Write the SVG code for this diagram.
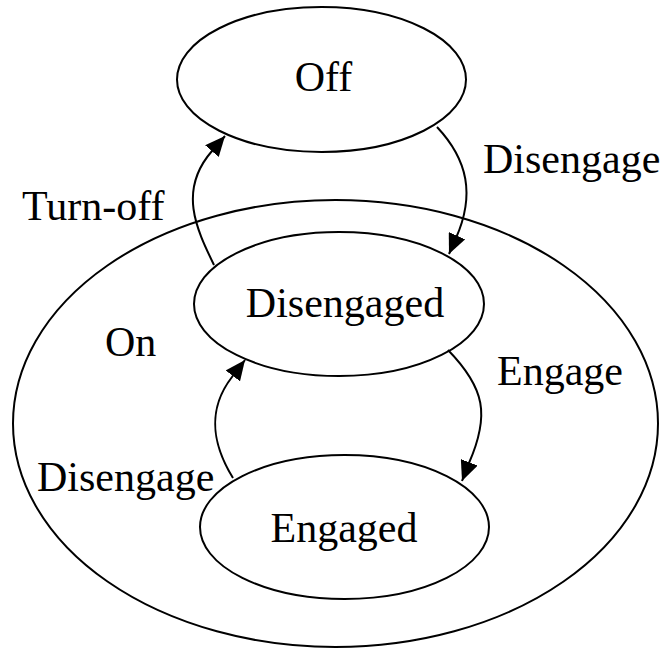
<svg xmlns="http://www.w3.org/2000/svg" width="667" height="650" viewBox="0 0 667 650">
<style>
.st{fill:none;stroke:#000;stroke-width:2}
.ln{fill:none;stroke:#000;stroke-width:2}
text{font-family:"Liberation Serif","Times New Roman",serif;font-size:42px;fill:#000}
.c{text-anchor:middle}
</style>
<defs>
<marker id="ah" viewBox="0 0 20 18" refX="20" refY="9" markerWidth="20" markerHeight="18" markerUnits="userSpaceOnUse" orient="auto">
<path d="M0,0 L20,9 L0,18 z" fill="#000"/>
</marker>
</defs>
<rect width="667" height="650" fill="#fff"/>
<g id="on">
<ellipse class="st" cx="335.5" cy="423.5" rx="322.5" ry="223.5"/>
<text x="105" y="356">On</text>
</g>
<g id="off">
<ellipse class="st" cx="321.5" cy="79.5" rx="144.5" ry="72.5"/>
<text class="c" x="323.5" y="91">Off</text>
</g>
<g id="disengaged">
<ellipse class="st" cx="339" cy="304" rx="145" ry="72"/>
<text class="c" x="345" y="317">Disengaged</text>
</g>
<g id="engaged">
<ellipse class="st" cx="344.5" cy="527" rx="144.5" ry="72"/>
<text class="c" x="344" y="542">Engaged</text>
</g>
<g id="connectors">
<path class="ln" marker-end="url(#ah)" d="M214,265 C196,228 178,190 212,151 L225,136"/>
<path class="ln" marker-end="url(#ah)" d="M437,127 C468,160 475,195 456,238 L449,254"/>
<path class="ln" marker-end="url(#ah)" d="M448,350 C485,388 490,415 469,463 L462,481"/>
<path class="ln" marker-end="url(#ah)" d="M233,478 C214,447 205,412 232,377 L245,360"/>
<text x="22" y="220">Turn-off</text>
<text x="483" y="173">Disengage</text>
<text x="497" y="385">Engage</text>
<text x="37" y="491">Disengage</text>
</g>
</svg>
